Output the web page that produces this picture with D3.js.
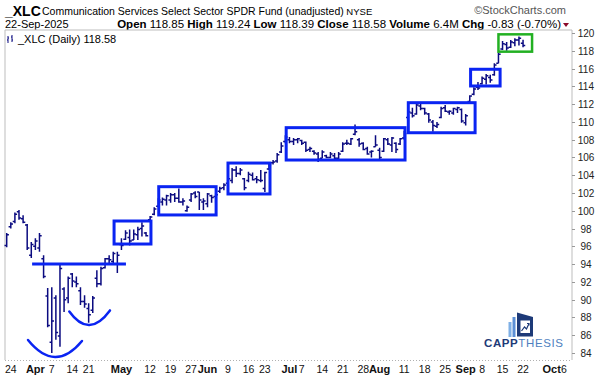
<!DOCTYPE html>
<html>
<head>
<meta charset="utf-8">
<script src="https://cdn.jsdelivr.net/npm/d3@7"></script>
<style>
  body { margin: 0; background: #fff; }
  svg { display: block; font-family: "Liberation Sans", Arial, sans-serif; }
</style>
</head>
<body>
<svg id="chart" width="598" height="378"></svg>
<script>
// ---------- data ----------
// trading days (MM-DD, 2025), last ones are future slots on the axis
const days = [
  "03-21","03-24","03-25","03-26","03-27","03-28","03-31",
  "04-01","04-02","04-03","04-04","04-07","04-08","04-09","04-10","04-11",
  "04-14","04-15","04-16","04-17","04-21","04-22","04-23","04-24","04-25",
  "04-28","04-29","04-30","05-01","05-02","05-05","05-06","05-07","05-08","05-09",
  "05-12","05-13","05-14","05-15","05-16","05-19","05-20","05-21","05-22","05-23",
  "05-27","05-28","05-29","05-30","06-02","06-03","06-04","06-05","06-06",
  "06-09","06-10","06-11","06-12","06-13","06-16","06-17","06-18","06-20",
  "06-23","06-24","06-25","06-26","06-27","06-30","07-01","07-02","07-03",
  "07-07","07-08","07-09","07-10","07-11","07-14","07-15","07-16","07-17","07-18",
  "07-21","07-22","07-23","07-24","07-25","07-28","07-29","07-30","07-31","08-01",
  "08-04","08-05","08-06","08-07","08-08","08-11","08-12","08-13","08-14","08-15",
  "08-18","08-19","08-20","08-21","08-22","08-25","08-26","08-27","08-28","08-29",
  "09-02","09-03","09-04","09-05","09-08","09-09","09-10","09-11","09-12",
  "09-15","09-16","09-17","09-18","09-19","09-22",
  "09-23","09-24","09-25","09-26","09-29","09-30","10-01","10-02","10-03",
  "10-06","10-07","10-08","10-09","10-10"
];

const open = [
  96.1, 98.2, 98.8, 99.9, 99.1, 98.4, 95.0, 96.0, 95.8, 94.6, 90.4, 85.2, 90.2, 85.9, 91.2, 90.2,
  92.9, 92.0, 91.0, 89.8, 89.0, 88.8, 92.4, 91.8, 93.6, 94.6, 94.3, 94.0, 96.2, 96.8,
  97.0, 96.7, 97.3, 98.0, 97.5, 99.0, 99.6, 100.5, 101.0, 101.2, 101.2, 101.8, 101.4, 101.0, 100.0,
  101.2, 102.0, 102.1, 101.0, 100.8, 101.7, 101.6, 102.2, 102.6, 103.1, 103.4, 104.6, 104.2, 103.6,
  103.4, 104.0, 103.6, 103.4, 102.5, 104.7, 105.4, 105.6, 106.6, 107.8, 108.0, 107.8, 108.0,
  107.9, 107.7, 106.9, 106.7, 106.4, 105.9, 106.2, 106.0, 106.2, 105.9, 106.7, 107.6, 107.5, 108.6,
  108.0, 107.6, 107.0, 106.6, 107.2, 106.8, 106.7, 108.0, 107.4, 107.6, 107.5, 108.2, 110.5, 111.0,
  110.9, 111.8, 111.5, 110.9, 110.0, 109.5, 110.5, 111.6, 111.1, 111.0, 111.4, 111.4, 109.9, 112.3,
  113.1, 113.9, 114.3, 114.8, 115.0, 115.3, 116.6, 118.2, 118.7, 118.4, 118.9, 119.2, 118.85
];
const high = [
  97.5, 98.7, 99.8, 100.1, 99.5, 98.5, 96.5, 96.9, 97.5, 95.0, 91.3, 91.4, 90.5, 93.9, 91.4, 92.6,
  93.0, 92.6, 91.4, 90.5, 89.6, 90.4, 93.3, 93.7, 94.7, 95.0, 95.4, 95.4, 96.9, 97.8,
  97.9, 97.9, 98.2, 98.7, 97.6, 99.4, 100.4, 101.4, 101.5, 101.8, 102.0, 102.0, 102.5, 101.4, 100.6,
  102.0, 102.2, 102.1, 101.4, 102.0, 101.8, 102.0, 102.7, 103.1, 103.8, 104.8, 105.0, 104.8, 103.7,
  104.4, 104.3, 103.9, 104.6, 104.4, 105.4, 105.7, 106.5, 107.7, 108.5, 108.3, 108.2, 108.2,
  108.0, 107.8, 107.2, 106.8, 106.6, 106.8, 106.3, 106.6, 106.5, 106.6, 107.7, 108.0, 108.2, 109.7,
  108.2, 107.7, 107.2, 106.8, 108.5, 107.1, 108.2, 108.2, 108.3, 107.7, 108.2, 109.0, 111.3, 111.6,
  112.1, 112.1, 111.6, 111.0, 110.2, 110.0, 111.7, 111.9, 111.3, 111.6, 111.7, 111.5, 110.9, 113.0,
  113.9, 114.5, 115.1, 115.4, 115.3, 116.6, 117.8, 119.1, 119.0, 119.2, 119.4, 119.6, 119.24
];
const low = [
  95.9, 98.0, 98.6, 99.0, 98.6, 95.6, 94.7, 95.6, 95.4, 92.4, 86.9, 84.0, 85.5, 84.7, 88.6, 89.6,
  91.4, 91.4, 89.4, 89.1, 87.4, 88.5, 91.4, 91.6, 93.5, 93.9, 94.1, 93.0, 95.6, 96.7,
  96.1, 96.7, 96.7, 97.1, 97.1, 98.8, 99.5, 100.4, 100.6, 100.6, 100.9, 101.0, 100.9, 100.6, 99.9,
  101.0, 101.4, 100.1, 100.1, 100.4, 100.9, 100.9, 102.0, 102.3, 102.9, 103.1, 103.8, 104.0, 102.3,
  103.2, 103.4, 103.1, 103.2, 102.1, 104.6, 105.2, 105.4, 106.5, 107.6, 107.6, 107.4, 107.6,
  107.4, 106.6, 106.6, 106.3, 105.5, 105.9, 105.9, 105.9, 105.7, 105.7, 106.6, 107.4, 107.4, 108.5,
  107.2, 106.8, 106.3, 106.0, 107.2, 105.7, 106.6, 107.4, 106.6, 106.5, 107.4, 108.0, 110.4, 110.5,
  110.8, 111.3, 110.8, 109.9, 108.9, 109.3, 110.4, 111.1, 110.8, 110.8, 111.0, 109.9, 109.6, 112.2,
  113.0, 113.6, 114.2, 114.2, 114.4, 115.2, 116.6, 118.1, 118.0, 118.3, 118.5, 118.6, 118.39
];
const close = [
  97.3, 98.5, 99.6, 99.2, 98.7, 95.8, 96.2, 96.6, 97.2, 92.6, 87.1, 87.6, 86.3, 93.5, 90.0, 92.4,
  92.1, 91.8, 89.8, 89.5, 88.3, 90.2, 91.8, 93.5, 94.6, 94.5, 95.2, 95.0, 96.1, 97.5,
  96.6, 97.4, 97.9, 98.3, 97.2, 99.3, 100.2, 101.2, 101.3, 101.7, 101.8, 101.4, 101.0, 101.1, 100.4,
  101.9, 101.6, 101.2, 101.1, 101.9, 101.5, 101.8, 102.5, 102.9, 103.6, 104.6, 104.2, 104.6, 102.6,
  104.1, 103.5, 103.5, 103.4, 104.3, 105.2, 105.5, 106.3, 107.3, 108.3, 107.8, 108.0, 108.1,
  107.6, 106.8, 107.0, 106.5, 105.8, 106.6, 106.0, 106.4, 105.9, 106.4, 107.5, 107.6, 108.1, 108.9,
  107.5, 106.9, 106.4, 106.7, 107.4, 106.0, 108.1, 107.5, 108.2, 106.9, 108.1, 108.7, 111.1, 110.7,
  111.9, 111.5, 111.0, 110.2, 109.6, 109.7, 111.5, 111.2, 111.2, 111.5, 111.6, 110.1, 110.7, 112.9,
  113.7, 113.8, 114.9, 115.2, 114.7, 116.4, 117.6, 118.8, 118.3, 119.0, 119.2, 119.41, 118.58
];

const yTicks = d3.range(84, 121, 2);

// x-axis labels: [day, label, month?]
const xTicks = [
  ["03-24","24",0], ["04-01","Apr",1], ["04-07","7",0], ["04-14","14",0], ["04-21","21",0],
  ["05-01","May",1], ["05-12","12",0], ["05-19","19",0], ["05-27","27",0],
  ["06-02","Jun",1], ["06-09","9",0], ["06-16","16",0], ["06-23","23",0],
  ["07-01","Jul",1], ["07-07","7",0], ["07-14","14",0], ["07-21","21",0], ["07-28","28",0],
  ["08-01","Aug",1], ["08-11","11",0], ["08-18","18",0], ["08-25","25",0],
  ["09-02","Sep",1], ["09-08","8",0], ["09-15","15",0], ["09-22","22",0],
  ["10-01","Oct",1], ["10-06","6",0]
];

// consolidation boxes, in trading-day index units and price
const blueBoxes = [
  { d0: 26.2, d1: 35.2, hi: 98.85, lo: 96.26 },
  { d0: 37.1, d1: 51.1, hi: 102.71, lo: 99.53 },
  { d0: 54.0, d1: 64.25, hi: 105.37, lo: 101.89 },
  { d0: 68.2, d1: 97.2, hi: 109.35, lo: 105.71 },
  { d0: 98.0, d1: 114.3, hi: 112.16, lo: 108.78 },
  { d0: 113.2, d1: 120.4, hi: 115.92, lo: 114.04 }
];
const greenBox = { d0: 120.0, d1: 128.2, hi: 119.85, lo: 117.9 };

// neckline and the two bottoms
const neckline = { d0: 6.2, d1: 29.1, price: 94.0 };
const arcs = [
  { d: [5.2, 11.8, 18.37], p: [85.46, 83.55, 85.35] },
  { d: [15.28, 20.16, 25.2], p: [88.67, 87.15, 88.79] }
];

const quoteLabels = ["Open", "High", "Low", "Close", "Volume", "Chg"];
const quoteValues = ["118.85", "119.24", "118.39", "118.58", "6.4M", "-0.83 (-0.70%)"];

// ---------- layout ----------
const W = 598, H = 378;
const frame = { left: 5, right: 572, top: 30, bottom: 360 };
const barColor = "#0b0b80";
const boxBlue = "#0a24f2";

const svg = d3.select("#chart");
svg.append("rect").attr("width", W).attr("height", H).attr("fill", "#fff");

const x = d3.scalePoint().domain(days).range([6.7, 6.7 + 4.098 * (days.length - 1)]);
const xi = d3.scaleLinear().domain([0, days.length - 1]).range(x.range());
const y = d3.scaleLinear().domain([84, 120]).range([353, 33]);

// ---------- header ----------
svg.append("text").attr("x", 5).attr("y", 16)
  .attr("font-size", 14).attr("font-weight", "bold").text("_XLC");
svg.append("text").attr("x", 42).attr("y", 15).attr("font-size", 10.5)
  .text("Communication Services Select Sector SPDR Fund (unadjusted)")
  .append("tspan").attr("font-size", 9.5).text("  NYSE");
svg.append("text").attr("x", 566).attr("y", 14).attr("font-size", 11)
  .attr("text-anchor", "end").attr("fill", "#555").text("\u00A9StockCharts.com");

svg.append("text").attr("x", 5).attr("y", 28).attr("font-size", 11).text("22-Sep-2025");

const q = svg.append("text").attr("x", 561).attr("y", 28).attr("font-size", 11.5)
  .attr("text-anchor", "end");
quoteLabels.forEach((lab, i) => {
  q.append("tspan").attr("font-weight", "bold").text((i ? " " : "") + lab);
  q.append("tspan").text(" " + quoteValues[i]);
});
svg.append("path").attr("d", "M563,23 L569,23 L566,27 Z").attr("fill", "#8b0a2a");

// ---------- frame ----------
svg.append("path")
  .attr("d", `M${frame.left},${frame.bottom} V${frame.top} H${frame.right} V${frame.bottom}`)
  .attr("fill", "none").attr("stroke", "#bdbdbd").attr("stroke-width", 1);
svg.append("line")
  .attr("x1", frame.left).attr("x2", frame.right)
  .attr("y1", frame.bottom + 0.5).attr("y2", frame.bottom + 0.5)
  .attr("stroke", "#b0b0b0").attr("stroke-dasharray", "1,2");

// legend
const leg = svg.append("g").attr("stroke", barColor).attr("stroke-width", 1);
leg.append("path").attr("d", "M8,36 V43 M7,40 H8 M8,38 H9 M12,35 V42 M11,37 H12 M12,40 H13");
svg.append("text").attr("x", 18).attr("y", 43).attr("font-size", 11)
  .text("_XLC (Daily) 118.58");

// ---------- y axis ----------
const ya = svg.append("g");
ya.selectAll("line").data(yTicks).join("line")
  .attr("x1", frame.right).attr("x2", frame.right + 3)
  .attr("y1", d => Math.round(y(d)) + 0.5).attr("y2", d => Math.round(y(d)) + 0.5)
  .attr("stroke", "#999");
ya.selectAll("text").data(yTicks).join("text")
  .attr("x", 586).attr("y", d => y(d) + 4)
  .attr("text-anchor", "middle").attr("font-size", 10).attr("fill", "#222")
  .text(d => d);

// ---------- x axis ----------
svg.append("g").selectAll("text").data(xTicks).join("text")
  .attr("x", d => x(d[0])).attr("y", 373)
  .attr("text-anchor", "middle")
  .attr("font-size", d => d[2] ? 11 : 10.5)
  .attr("font-weight", d => d[2] ? "bold" : "normal")
  .attr("fill", "#111")
  .text(d => d[1]);

// ---------- bars ----------
const plot = svg.append("g");
const bars = d3.range(close.length).map(i => ({ day: days[i], o: open[i], h: high[i], l: low[i], c: close[i] }));
plot.selectAll("path.bar").data(bars).join("path")
  .attr("class", "bar")
  .attr("d", d => {
    const cx = x(d.day);
    return `M${cx},${y(d.h)} V${y(d.l)} M${cx - 2.2},${y(d.o)} H${cx} M${cx},${y(d.c)} H${cx + 2.2}`;
  })
  .attr("fill", "none").attr("stroke", barColor).attr("stroke-width", 1.5);

// ---------- annotations ----------
const anno = svg.append("g").attr("fill", "none");
anno.selectAll("rect.blue").data(blueBoxes).join("rect")
  .attr("class", "blue")
  .attr("x", d => xi(d.d0)).attr("y", d => y(d.hi))
  .attr("width", d => xi(d.d1) - xi(d.d0)).attr("height", d => y(d.lo) - y(d.hi))
  .attr("stroke", boxBlue).attr("stroke-width", 3);
anno.append("rect")
  .attr("x", xi(greenBox.d0)).attr("y", y(greenBox.hi))
  .attr("width", xi(greenBox.d1) - xi(greenBox.d0)).attr("height", y(greenBox.lo) - y(greenBox.hi))
  .attr("stroke", "#22b022").attr("stroke-width", 2.5);
anno.append("line")
  .attr("x1", xi(neckline.d0)).attr("x2", xi(neckline.d1))
  .attr("y1", y(neckline.price)).attr("y2", y(neckline.price))
  .attr("stroke", boxBlue).attr("stroke-width", 3);
arcs.forEach(a => {
  const pts = a.d.map((d, k) => [xi(d), y(a.p[k])]);
  const cx = 2 * pts[1][0] - (pts[0][0] + pts[2][0]) / 2;
  const cy = 2 * pts[1][1] - (pts[0][1] + pts[2][1]) / 2;
  const p = d3.path();
  p.moveTo(pts[0][0], pts[0][1]);
  p.quadraticCurveTo(cx, cy, pts[2][0], pts[2][1]);
  anno.append("path").attr("d", p.toString())
    .attr("stroke", boxBlue).attr("stroke-width", 2.5).attr("stroke-linecap", "round");
});

// ---------- logo ----------
const logo = svg.append("g");
logo.append("rect").attr("x", 508.5).attr("y", 322).attr("width", 3).attr("height", 15).attr("fill", "#7fb0e6");
logo.append("rect").attr("x", 512.5).attr("y", 317).attr("width", 3).attr("height", 20).attr("fill", "#5b8fd6");
logo.append("path").attr("d", "M517,312.5 L533,317 V336.5 H517 Z").attr("fill", "#1d3a78");
logo.append("rect").attr("x", 520.5).attr("y", 320.5).attr("width", 9.5).attr("height", 12.5).attr("fill", "#fff");
logo.append("path").attr("d", "M521.5,331 L524.5,327 L526.5,329 L529,323.5 M527,323.5 H529 V325.5")
  .attr("fill", "none").attr("stroke", "#1d3a78").attr("stroke-width", 1.2);
const lt = logo.append("text").attr("x", 484).attr("y", 347).attr("font-size", 11.5)
  .attr("font-weight", "bold").attr("letter-spacing", 0.6);
lt.append("tspan").attr("fill", "#1d3a78").text("CAPP");
lt.append("tspan").attr("fill", "#4f7fc0").attr("font-weight", "normal").text("THESIS");
</script>
</body>
</html>
